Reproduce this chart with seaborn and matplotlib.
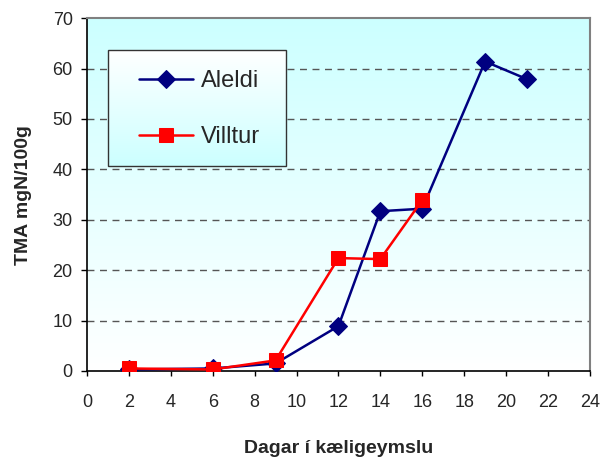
import numpy as np
import pandas as pd
import matplotlib
matplotlib.use("Agg")
import matplotlib.pyplot as plt
from matplotlib.colors import LinearSegmentedColormap
from matplotlib.patches import Rectangle
import seaborn as sns

# data
dagar_aleldi = [2, 6, 9, 12, 14, 16, 19, 21]
tma_aleldi = [0.3, 0.5, 1.5, 8.9, 31.7, 32.2, 61.4, 57.9]
dagar_villtur = [2, 6, 9, 12, 14, 16]
tma_villtur = [0.5, 0.3, 2.1, 22.4, 22.2, 33.9]
x_ticks = list(range(0, 25, 2))
y_ticks = list(range(0, 71, 10))

df = pd.concat([
    pd.DataFrame({"dagar": dagar_aleldi, "tma": tma_aleldi, "hopur": "Aleldi"}),
    pd.DataFrame({"dagar": dagar_villtur, "tma": tma_villtur, "hopur": "Villtur"}),
])

sns.set_style("white")
plt.rcParams['font.family'] = ['Liberation Sans', 'DejaVu Sans']

fig = plt.figure(figsize=(6.05, 4.66), dpi=100)
ax = fig.add_axes([0.1438, 0.2039, 0.8312, 0.7571])

# background gradient: cyan top -> white bottom
cmap = LinearSegmentedColormap.from_list("bg", ["#ffffff", "#ccffff"])
grad = np.linspace(0, 1, 256).reshape(-1, 1)
ax.imshow(grad, cmap=cmap, aspect="auto", origin="lower",
          extent=(0, 1, 0, 1), transform=ax.transAxes, zorder=0)

for y in y_ticks[1:-1]:
    ax.axhline(y, color="#555555", linestyle=(0, (5, 4)), linewidth=1.0, zorder=1)

sns.lineplot(data=df[df.hopur == "Aleldi"], x="dagar", y="tma", ax=ax,
             color="#000080", marker="D", markersize=9.5, linewidth=1.8,
             markeredgecolor="#000080", label="Aleldi", zorder=3)
sns.lineplot(data=df[df.hopur == "Villtur"], x="dagar", y="tma", ax=ax,
             color="#ff0000", marker="s", markersize=10.5, linewidth=1.8,
             markeredgecolor="#ff0000", label="Villtur", zorder=4)

ax.set_xlim(0, 24)
ax.set_ylim(0, 70)
ax.set_xticks(x_ticks)
ax.set_yticks(y_ticks)
ax.tick_params(axis="x", direction="out", length=3.8, width=1, labelsize=13,
               bottom=True, color="black", pad=13)
ax.tick_params(axis="y", direction="out", length=4.3, width=1, labelsize=13,
               left=True, color="black", pad=6)
ax.set_xlabel("Dagar í kæligeymslu", fontsize=14, fontweight="bold", labelpad=21)
ax.set_ylabel("TMA mgN/100g", fontsize=14, fontweight="bold", labelpad=15)

for side in ["top", "right"]:
    ax.spines[side].set_color("#808080")
    ax.spines[side].set_linewidth(1.5)
for side in ["left", "bottom"]:
    ax.spines[side].set_color("black")
    ax.spines[side].set_linewidth(1.2)

# legend box with its own gradient: white top -> cyan bottom
lx0, lx1, ly0, ly1 = 0.042, 0.396, 0.581, 0.909
cmap2 = LinearSegmentedColormap.from_list("lg", ["#ccffff", "#ffffff"])
ax.imshow(grad, cmap=cmap2, aspect="auto", origin="lower",
          extent=(lx0, lx1, ly0, ly1), transform=ax.transAxes, zorder=5)
ax.add_patch(Rectangle((lx0, ly0), lx1 - lx0, ly1 - ly0, transform=ax.transAxes,
                       fill=False, edgecolor="#333333", linewidth=1.0, zorder=6))
ax.set_xlim(0, 24)
ax.set_ylim(0, 70)
leg = ax.legend(loc="center", bbox_to_anchor=((lx0 + lx1) / 2 + 0.005, (ly0 + ly1) / 2 - 0.003),
                frameon=False, fontsize=17, handlelength=2.3, handletextpad=0.35,
                labelspacing=1.45)
leg.set_zorder(7)

fig.savefig("out.png", dpi=100)
